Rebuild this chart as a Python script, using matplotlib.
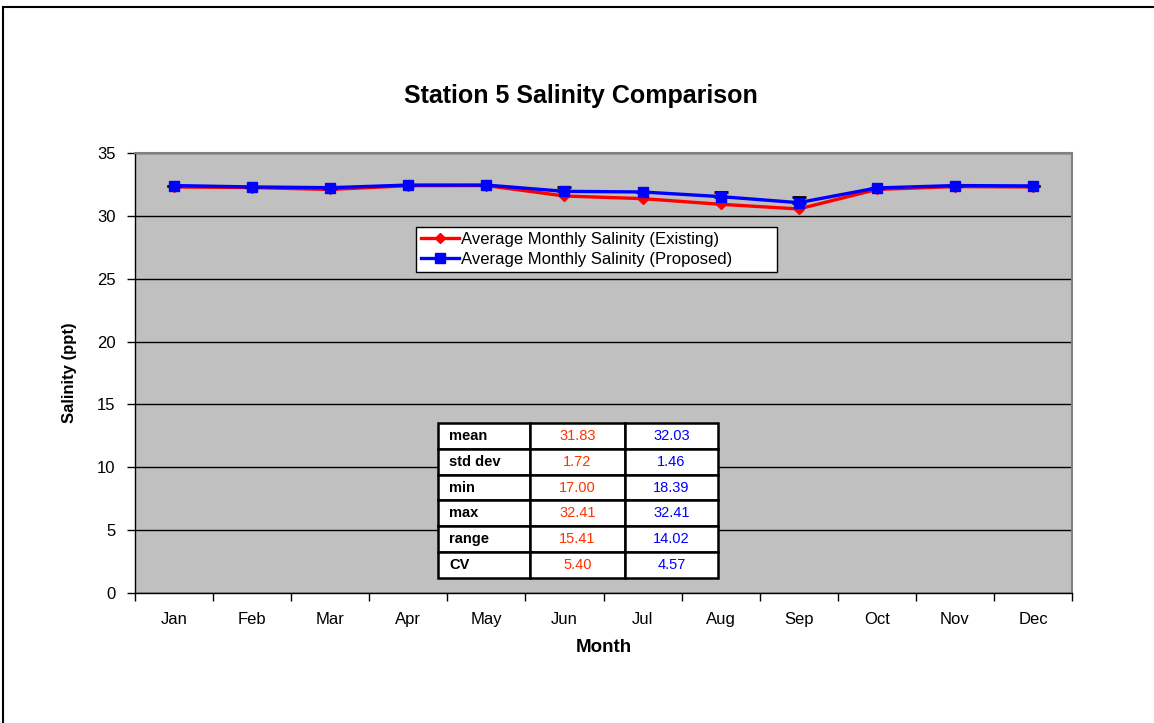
import matplotlib
matplotlib.use("Agg")
import matplotlib.pyplot as plt
from matplotlib.lines import Line2D
import numpy as np

months = ["Jan", "Feb", "Mar", "Apr", "May", "Jun", "Jul", "Aug", "Sep", "Oct", "Nov", "Dec"]
existing = [32.30, 32.25, 32.10, 32.40, 32.41, 31.58, 31.37, 30.92, 30.55, 32.10, 32.33, 32.30]
proposed = [32.41, 32.30, 32.24, 32.45, 32.45, 31.95, 31.90, 31.53, 31.05, 32.22, 32.41, 32.38]
proposed_err = [0, 0, 0, 0, 0, 0.37, 0, 0.35, 0.45, 0, 0, 0]

stat_names = ["mean", "std dev", "min", "max", "range", "CV"]
stat_existing = ["31.83", "1.72", "17.00", "32.41", "15.41", "5.40"]
stat_proposed = ["32.03", "1.46", "18.39", "32.41", "14.02", "4.57"]

plt.rcParams['font.family'] = ['Liberation Sans', 'DejaVu Sans']

W, H = 1154, 723
fig = plt.figure(figsize=(W / 100, H / 100), dpi=100)
fig.patch.set_facecolor('white')

# figure border (left and top)
fig.add_artist(Line2D([3 / W, 3 / W], [0, 1 - 7 / H], transform=fig.transFigure, color='black', lw=1.5))
fig.add_artist(Line2D([3 / W, 1], [1 - 7 / H, 1 - 7 / H], transform=fig.transFigure, color='black', lw=1.5))

ax = fig.add_axes([135 / W, (H - 593) / H, 937 / W, 440 / H])
ax.set_facecolor('#C0C0C0')
x = np.arange(len(months))

ax.set_xlim(-0.5, len(months) - 0.5)
ax.set_ylim(0, 35)
ax.set_yticks(np.arange(0, 36, 5))
ax.yaxis.grid(True, color='black', lw=1)
ax.set_axisbelow(True)

ax.set_xticks(x)
ax.set_xticklabels(months, fontsize=12)
ax.set_xticks(np.arange(-0.5, len(months), 1), minor=True)
ax.tick_params(axis='x', which='major', length=0, pad=14)
ax.tick_params(axis='x', which='minor', length=6, width=1, color='black')
ax.tick_params(axis='y', length=6, width=1, labelsize=12, pad=8)

for s in ['top', 'right']:
    ax.spines[s].set_color('#808080')
    ax.spines[s].set_linewidth(1.5)
for s in ['left', 'bottom']:
    ax.spines[s].set_color('black')
    ax.spines[s].set_linewidth(1)

ax.plot(x, existing, color='#FF0000', lw=2.4, marker='D', markersize=5,
        label='Average Monthly Salinity (Existing)', zorder=3)
ax.errorbar(x, proposed, yerr=[np.zeros(len(x)), proposed_err], fmt='none',
            ecolor='black', elinewidth=1.5, capsize=5, capthick=2, zorder=3.5)
ax.plot(x, proposed, color='#0000FF', lw=2.4, marker='s', markersize=7.5,
        label='Average Monthly Salinity (Proposed)', zorder=4)

leg = ax.legend(loc='upper left',
                bbox_to_anchor=((416 - 135) / 937, (593 - 272) / 440, 361 / 937, 45 / 440),
                mode='expand', borderaxespad=0, fancybox=False, edgecolor='black', framealpha=1,
                fontsize=12, handlelength=2.3, handletextpad=0.1, borderpad=0.3,
                labelspacing=0.3)
leg.get_frame().set_linewidth(1)

fig.text(581 / W, 1 - 96 / H, "Station 5 Salinity Comparison", ha='center', va='center',
         fontsize=18, fontweight='bold')
ax.set_xlabel("Month", fontsize=13.5, fontweight='bold', labelpad=8)
ax.set_ylabel("Salinity (ppt)", fontsize=12, fontweight='bold', labelpad=14)

cell_text = [[n, e, p] for n, e, p in zip(stat_names, stat_existing, stat_proposed)]
tbl = ax.table(cellText=cell_text, colWidths=[92, 95, 93],
               bbox=[(438 - 135) / 937, (593 - 578) / 440, 280 / 937, 155 / 440],
               cellLoc='center')
tbl.auto_set_font_size(False)
tbl.set_fontsize(10.5)
for (r, c), cell in tbl.get_celld().items():
    cell.set_facecolor('white')
    cell.set_edgecolor('black')
    cell.set_linewidth(1.8)
    t = cell.get_text()
    if c == 0:
        t.set_ha('left')
        cell.PAD = 0.12
        t.set_fontweight('bold')
        t.set_color('black')
    elif c == 1:
        t.set_color('#FF3300')
    else:
        t.set_color('#0000FF')
tbl.set_zorder(6)

fig.savefig("out.png", dpi=100)
